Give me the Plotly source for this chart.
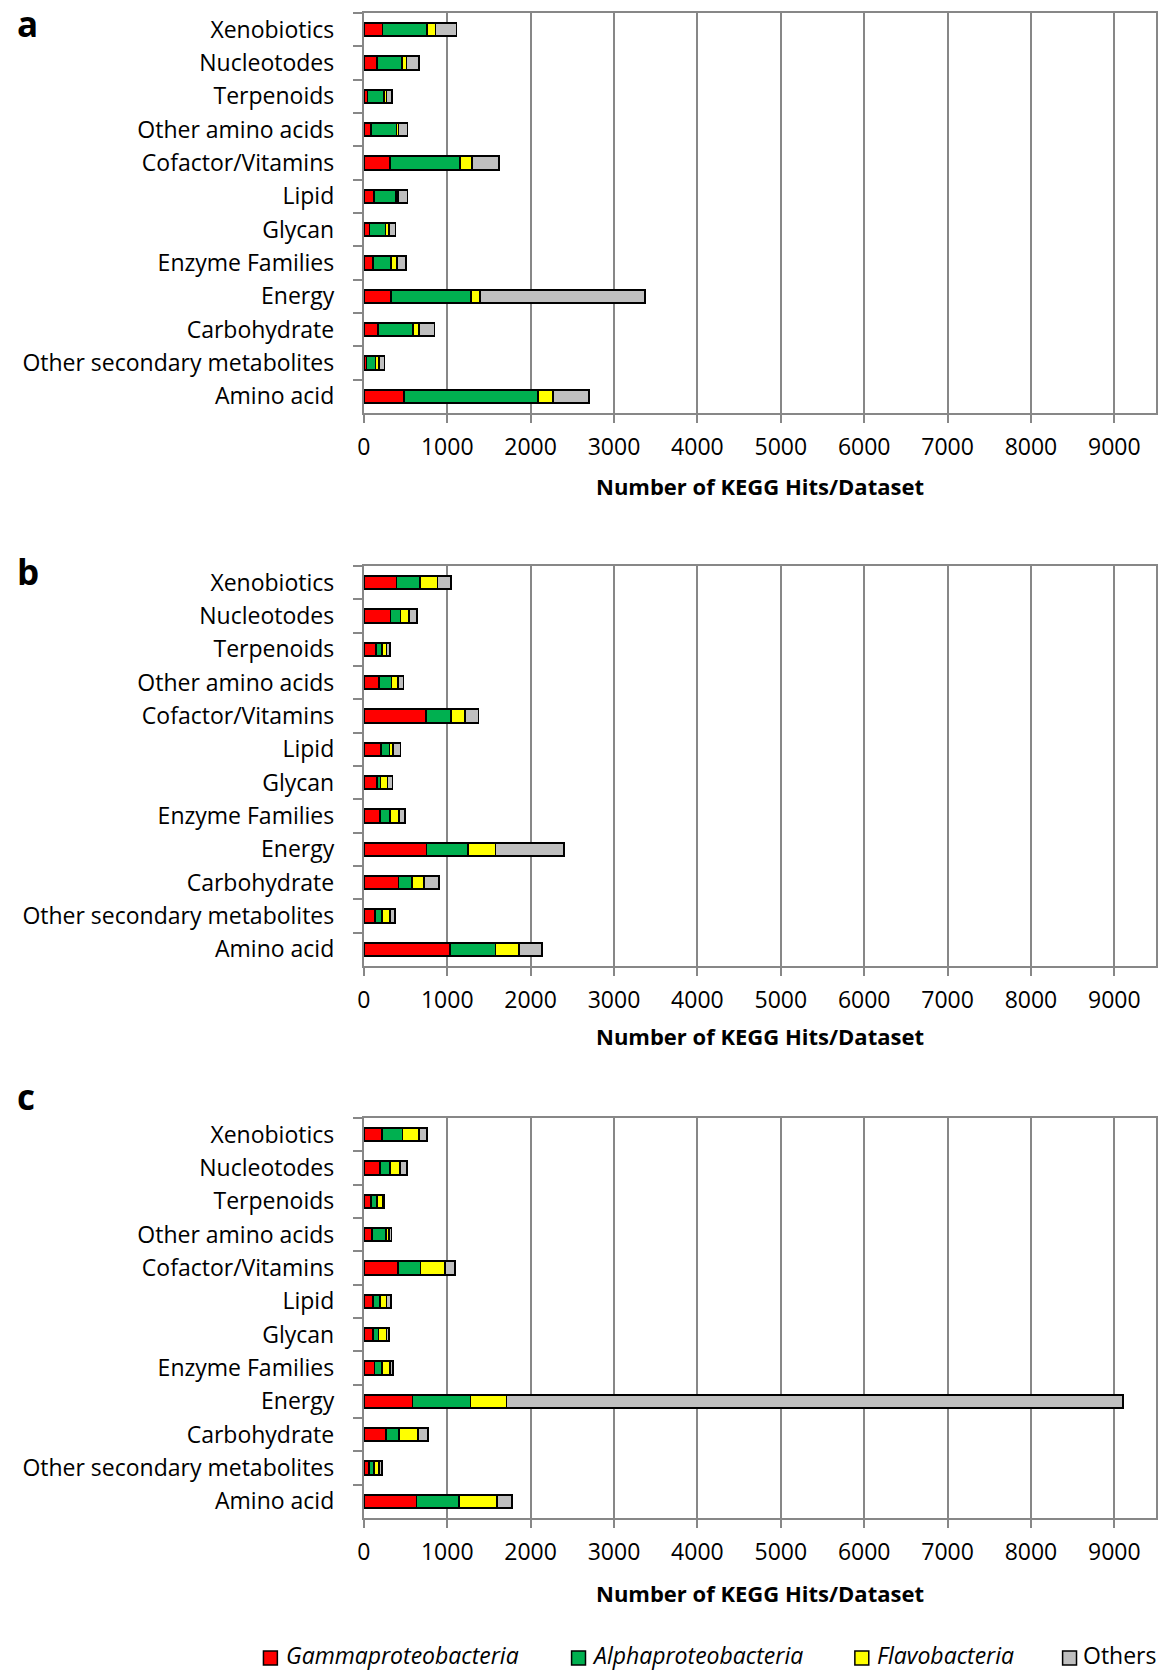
import plotly.graph_objects as go

# Metabolic categories, listed top to bottom as drawn
categories = [
    "Xenobiotics", "Nucleotodes", "Terpenoids", "Other amino acids",
    "Cofactor/Vitamins", "Lipid", "Glycan", "Enzyme Families", "Energy",
    "Carbohydrate", "Other secondary metabolites", "Amino acid",
]

series_names = ["Gammaproteobacteria", "Alphaproteobacteria", "Flavobacteria", "Others"]
series_italic = [True, True, True, False]
series_colors = ["#FF0000", "#00B050", "#FFFF00", "#BFBFBF"]

# Panel a: KEGG hits per group
a_gamma = [224, 160, 44, 88, 316, 120, 68, 112, 328, 168, 32, 480]
a_alpha = [536, 300, 196, 304, 836, 264, 192, 216, 956, 424, 108, 1604]
a_flavo = [100, 52, 32, 24, 144, 24, 44, 72, 112, 68, 44, 184]
a_other = [252, 148, 64, 108, 328, 116, 76, 104, 1976, 188, 64, 436]

# Panel b
b_gamma = [392, 320, 144, 184, 748, 208, 160, 196, 752, 416, 136, 1032]
b_alpha = [280, 120, 72, 148, 296, 100, 40, 116, 500, 160, 84, 548]
b_flavo = [212, 104, 56, 76, 172, 40, 84, 112, 328, 144, 92, 276]
b_other = [160, 92, 44, 68, 160, 92, 60, 68, 816, 184, 60, 284]

# Panel c
c_gamma = [220, 196, 88, 100, 408, 112, 112, 128, 584, 268, 64, 632]
c_alpha = [244, 120, 68, 168, 272, 80, 64, 88, 696, 156, 56, 508]
c_flavo = [196, 116, 68, 32, 292, 80, 96, 96, 432, 228, 60, 460]
c_other = [96, 88, 20, 32, 124, 52, 28, 40, 7388, 116, 40, 172]

panels = [
    ("a", [a_gamma, a_alpha, a_flavo, a_other]),
    ("b", [b_gamma, b_alpha, b_flavo, b_other]),
    ("c", [c_gamma, c_alpha, c_flavo, c_other]),
]

x_ticks = [0, 1000, 2000, 3000, 4000, 5000, 6000, 7000, 8000, 9000]
x_title = "Number of KEGG Hits/Dataset"

W, H = 1162, 1671
FONT = "Open Sans"
GRID = "#878787"

# pixel layout of the three plot areas (top, bottom) and x extent
plot_left, plot_right = 359, 1156
panel_rows = [(13, 413), (566, 966), (1118, 1518)]
panel_letter_y = [24, 571, 1096]
axis_title_y = [486, 1036, 1593]

# shared legend row at the bottom: marker left edge and text start (pixels)
legend_y = 1655
legend_marker_x = [258, 568, 853, 1062]
legend_text_x = [279, 587, 873, 1081]
legend_box = 14


def py(px):
    return 1 - px / H


fig = go.Figure()
annotations = []
shapes = []

for i, (letter, series) in enumerate(panels):
    xa = "x" if i == 0 else f"x{i+1}"
    ya = "y" if i == 0 else f"y{i+1}"
    for name, color, vals in zip(series_names, series_colors, series):
        fig.add_trace(go.Bar(
            x=vals, y=categories, orientation="h", name=name,
            marker=dict(color=color, line=dict(color="black", width=1.8)),
            width=0.4, xaxis=xa, yaxis=ya, showlegend=False,
        ))
    top, bottom = panel_rows[i]
    xkey = "xaxis" if i == 0 else f"xaxis{i+1}"
    ykey = "yaxis" if i == 0 else f"yaxis{i+1}"
    fig.update_layout(**{
        xkey: dict(
            domain=[plot_left / W, plot_right / W], anchor=ya,
            range=[0, 9500], tickvals=x_ticks,
            showgrid=True, gridcolor=GRID, gridwidth=2,
            showline=True, linecolor=GRID, linewidth=2, mirror=True,
            ticks="outside", ticklen=8, tickwidth=2, tickcolor=GRID,
            tickfont=dict(family=FONT, size=23, color="black"),
            ticklabelstandoff=4, zeroline=False, fixedrange=True,
        ),
        ykey: dict(
            domain=[py(bottom), py(top)], anchor=xa,
            categoryorder="array", categoryarray=categories,
            autorange="reversed",
            showgrid=False, showline=True, linecolor=GRID, linewidth=2, mirror=True,
            ticks="outside", tickson="boundaries", ticklen=9, tickwidth=2, tickcolor=GRID,
            tickfont=dict(family=FONT, size=23, color="black"),
            ticklabelstandoff=23, fixedrange=True,
        ),
    })
    annotations.append(dict(
        text=f"<b>{letter}</b>", x=8 / W, y=py(panel_letter_y[i]),
        xref="paper", yref="paper", xanchor="left", yanchor="middle",
        showarrow=False, font=dict(family=FONT, size=35, color="black"),
    ))
    annotations.append(dict(
        text=f"<b>{x_title}</b>", x=(plot_left + plot_right) / 2 / W, y=py(axis_title_y[i]),
        xref="paper", yref="paper", xanchor="center", yanchor="middle",
        showarrow=False, font=dict(family=FONT, size=22, color="black"),
    ))

# legend entries: outlined colour square followed by the group name
for name, italic, color, mx, tx in zip(series_names, series_italic, series_colors,
                                       legend_marker_x, legend_text_x):
    shapes.append(dict(
        type="rect", xref="paper", yref="paper",
        x0=mx / W, x1=(mx + legend_box) / W,
        y0=py(legend_y + 3 + legend_box / 2), y1=py(legend_y + 3 - legend_box / 2),
        fillcolor=color, line=dict(color="black", width=1.5),
    ))
    annotations.append(dict(
        text=f"<i>{name}</i>" if italic else name,
        x=tx / W, y=py(legend_y), xref="paper", yref="paper",
        xanchor="left", yanchor="middle", showarrow=False,
        font=dict(family=FONT, size=23, color="black"),
    ))

fig.update_layout(
    width=W, height=H,
    margin=dict(l=0, r=0, t=0, b=0),
    paper_bgcolor="white", plot_bgcolor="white",
    barmode="stack",
    annotations=annotations,
    shapes=shapes,
    showlegend=False,
    font=dict(family=FONT, color="black"),
)

fig.write_html("out.html")
